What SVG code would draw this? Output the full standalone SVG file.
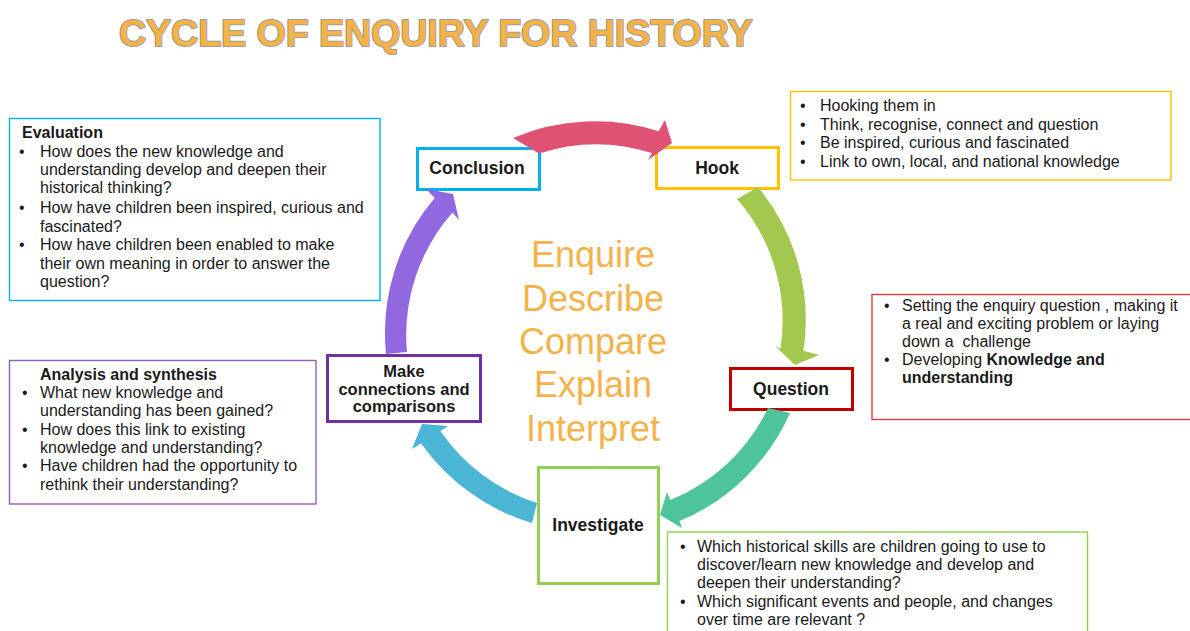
<svg xmlns="http://www.w3.org/2000/svg" width="1190" height="631" viewBox="0 0 1190 631">
<style>
.t{font-family:"Liberation Sans",Arial,sans-serif;font-size:16px;fill:#1a1a1a}
.b{font-weight:bold}
.n{font-family:"Liberation Sans",Arial,sans-serif;font-size:17.5px;font-weight:bold;fill:#1a1a1a;text-anchor:middle}
.c{font-family:"Liberation Sans",Arial,sans-serif;font-size:36px;fill:#F5B24A;text-anchor:middle}
.node{fill:#fff;stroke-width:3}
.info{fill:#fff;stroke-width:1.4}
</style>
<rect width="1190" height="631" fill="#fff"/>
<text x="119" y="46" font-family="'Liberation Sans',Arial,sans-serif" font-size="37.5" font-weight="bold" fill="#F5B247" stroke="#9C9C9C" stroke-width="2" paint-order="stroke" stroke-linejoin="round">CYCLE OF ENQUIRY FOR HISTORY</text>

<g id="center-words">
<text class="c" x="593" y="267">Enquire</text>
<text class="c" x="593" y="311">Describe</text>
<text class="c" x="593" y="354">Compare</text>
<text class="c" x="593" y="397">Explain</text>
<text class="c" x="593" y="441">Interpret</text>
</g>

<g id="evaluation">
<rect class="info" x="9.5" y="118.5" width="370.5" height="182" stroke="#00B0F0"/>
<text class="t b" x="22" y="138">Evaluation</text>
<text class="t" x="19" y="157">•</text><text class="t" x="40" y="157">How does the new knowledge and</text>
<text class="t" x="40" y="175">understanding develop and deepen their</text>
<text class="t" x="40" y="193">historical thinking?</text>
<text class="t" x="19" y="213">•</text><text class="t" x="40" y="213">How have children been inspired, curious and</text>
<text class="t" x="40" y="231.5">fascinated?</text>
<text class="t" x="19" y="250">•</text><text class="t" x="40" y="250">How have children been enabled to make</text>
<text class="t" x="40" y="269">their own meaning in order to answer the</text>
<text class="t" x="40" y="287">question?</text>
</g>

<g id="hook-info">
<rect class="info" x="790.5" y="91.5" width="380.5" height="88.5" stroke="#FFC000"/>
<text class="t" x="800" y="111">•</text><text class="t" x="820" y="111">Hooking them in</text>
<text class="t" x="800" y="130">•</text><text class="t" x="820" y="130">Think, recognise, connect and question</text>
<text class="t" x="800" y="148">•</text><text class="t" x="820" y="148">Be inspired, curious and fascinated</text>
<text class="t" x="800" y="167">•</text><text class="t" x="820" y="167">Link to own, local, and national knowledge</text>
</g>

<g id="question-info">
<rect class="info" x="872" y="294.5" width="330" height="125" stroke="#E03A3A"/>
<text class="t" x="884" y="311">•</text><text class="t" x="902" y="311">Setting the enquiry question , making it</text>
<text class="t" x="902" y="329">a real and exciting problem or laying</text>
<text class="t" x="902" y="347" xml:space="preserve">down a  challenge</text>
<text class="t" x="884" y="365">•</text><text class="t" x="902" y="365">Developing <tspan class="b">Knowledge and</tspan></text>
<text class="t b" x="902" y="383">understanding</text>
</g>

<g id="analysis-info">
<rect class="info" x="9.5" y="360.5" width="306.5" height="143.5" stroke="#9060C0"/>
<text class="t b" x="40" y="380">Analysis and synthesis</text>
<text class="t" x="22" y="398">•</text><text class="t" x="40" y="398">What new knowledge and</text>
<text class="t" x="40" y="416">understanding has been gained?</text>
<text class="t" x="22" y="435">•</text><text class="t" x="40" y="435">How does this link to existing</text>
<text class="t" x="40" y="453">knowledge and understanding?</text>
<text class="t" x="22" y="471">•</text><text class="t" x="40" y="471">Have children had the opportunity to</text>
<text class="t" x="40" y="490">rethink their understanding?</text>
</g>

<g id="investigate-info">
<rect class="info" x="667.5" y="532" width="420" height="110" stroke="#92D050"/>
<text class="t" x="680" y="552">•</text><text class="t" x="697" y="552">Which historical skills are children going to use to</text>
<text class="t" x="697" y="570">discover/learn new knowledge and develop and</text>
<text class="t" x="697" y="588">deepen their understanding?</text>
<text class="t" x="680" y="607">•</text><text class="t" x="697" y="607">Which significant events and people, and changes</text>
<text class="t" x="697" y="625">over time are relevant ?</text>
</g>

<g id="conclusion">
<rect class="node" x="417.5" y="148.5" width="122" height="41" stroke="#00B0F0"/>
<text class="n" x="477" y="174">Conclusion</text>
</g>
<g id="hook">
<rect class="node" x="656.5" y="147.5" width="122" height="41" stroke="#FFC000"/>
<text class="n" x="717" y="174">Hook</text>
</g>
<g id="question">
<rect class="node" x="730.5" y="368.5" width="122" height="41" stroke="#C00000"/>
<text class="n" x="791" y="395">Question</text>
</g>
<g id="investigate">
<rect class="node" x="538.5" y="467.5" width="120" height="116" stroke="#92D050"/>
<text class="n" x="598" y="531">Investigate</text>
</g>
<g id="make-connections">
<rect class="node" x="327.5" y="355.5" width="153" height="66" stroke="#7030A0"/>
<text class="n" x="404" y="377" style="font-size:16.5px">Make</text>
<text class="n" x="404" y="395" style="font-size:16.5px">connections and</text>
<text class="n" x="404" y="412" style="font-size:16.5px">comparisons</text>
</g>

<g id="connectors">
<path fill="#E05273" d="M513,138 A208.5,208.5 0 0 1 658.7,131.2 L665,120 L672,143 L648,160 L651.8,153.1 A185.5,185.5 0 0 0 539,153.5 Z"/>
<path fill="#A2C84F" d="M758,187 A208.5,208.5 0 0 1 803.5,350.7 L819,355 L795,365 L775,346 L780.6,348.4 A185.5,185.5 0 0 0 737,199 Z"/>
<path fill="#4DC49A" d="M790,413 A208.5,208.5 0 0 1 679.5,521.1 L682,528 L660,515 L667,492 L670.3,500 A185.5,185.5 0 0 0 768,408 Z"/>
<path fill="#4AB5D4" d="M532,523 A208.5,208.5 0 0 1 421.1,443.6 L412,449 L422,424 L448,426 L440.4,431 A185.5,185.5 0 0 0 537,503 Z"/>
<path fill="#9168E0" d="M386,354 A208.5,208.5 0 0 1 434.7,197.9 L426,189 L453,194 L459,220 L452.5,212.5 A185.5,185.5 0 0 0 407,352 Z"/>
</g>
</svg>
